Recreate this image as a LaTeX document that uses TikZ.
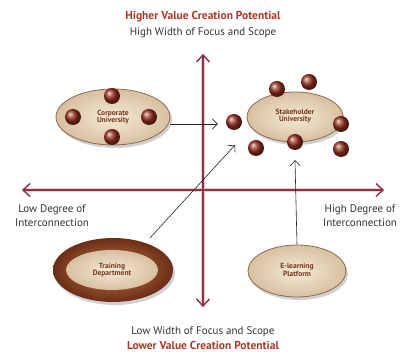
\documentclass[tikz,border=0pt]{standalone}
\usepackage{fontspec}
\setmainfont{PT Sans}
\usetikzlibrary{shapes.geometric,arrows.meta}
\definecolor{titlered}{HTML}{A83A2A}
\definecolor{axiscol}{HTML}{8A3444}
\definecolor{axisglow}{HTML}{F4C8D4}
\definecolor{ballred}{HTML}{9A3020}
\definecolor{rimbrown}{HTML}{8A6A50}
\definecolor{beigein}{HTML}{F4EAD8}
\definecolor{beigeout}{HTML}{D8C0A0}
\definecolor{labelbrown}{HTML}{7A3418}
\definecolor{darkring}{HTML}{6A2E16}
\definecolor{midring}{HTML}{C87848}
\tikzset{
  ovalbox/.style={ellipse, draw=rimbrown, line width=0.8pt, inner color=beigein, outer color=beigeout},
  ovalshadow/.style={ellipse, fill=black, opacity=0.18, draw=none},
  ovaltext/.style={font=\fontsize{7.5}{7.5}\selectfont\bfseries, text=labelbrown, align=center},
  ballnode/.style={circle, minimum size=16pt, inner sep=0pt, ball color=ballred, draw=none},
  axisline/.style={draw=axiscol, line width=1.4pt, -{Straight Barb[length=7pt,width=13pt,line width=1.4pt]}},
  linkarrow/.style={draw=black!85, line width=0.6pt, -{Straight Barb[length=5pt,width=10pt,line width=0.6pt]}},
  titletext/.style={font=\fontsize{11.5}{12}\selectfont\bfseries, text=titlered},
  axistext/.style={font=\fontsize{11}{14}\selectfont, text=black!80, align=left}
}
\begin{document}
\begin{tikzpicture}[x=1pt,y=-1pt]
\useasboundingbox (0,0) rectangle (400,352);
% titles
\node[titletext] (toptitle) at (203,17) {Higher Value Creation Potential};
\node[axistext] (topsub) at (203,33) {High Width of Focus and Scope};
\node[axistext] (botsub) at (203,332) {Low Width of Focus and Scope};
\node[titletext] (bottitle) at (203,345) {Lower Value Creation Potential};
\node[axistext, align=center] (lowlab) at (52,216) {Low Degree of\\Interconnection};
\node[axistext, align=center] (highlab) at (360,216) {High Degree of\\Interconnection};
% axes
\coordinate (c) at (203,190);
\coordinate (atop) at (203,54);
\coordinate (abot) at (203,307);
\coordinate (aleft) at (22,190);
\coordinate (aright) at (384,190);
\draw[axisglow, line width=3.2pt] (atop) -- (abot) (aleft) -- (aright);
\draw[axisline] (c) -- (atop);
\draw[axisline] (c) -- (abot);
\draw[axisline] (c) -- (aleft);
\draw[axisline] (c) -- (aright);
% shadows
\node[ovalshadow, minimum width=114pt, minimum height=56pt] (corpsh) at (115,120) {};
\node[ovalshadow, minimum width=96pt, minimum height=50pt] (stakesh) at (297,120) {};
\node[ovalshadow, minimum width=120pt, minimum height=64pt] (trainsh) at (115,273) {};
\node[ovalshadow, minimum width=98pt, minimum height=52pt] (elearnsh) at (299,274) {};
% corporate university
\node[ovalbox, minimum width=114pt, minimum height=56pt] (corp) at (113,117) {};
\node[ballnode] (cb1) at (112,96) {};
\node[ballnode] (cb2) at (73,117) {};
\node[ballnode] (cb3) at (149,117) {};
\node[ballnode] (cb4) at (112,137) {};
\node[ovaltext] (corptext) at (113,117) {Corporate\\University};
% stakeholder university
\node[ovalbox, minimum width=96pt, minimum height=50pt] (stake) at (295,117) {};
\node[ballnode] (sb1) at (277,89) {};
\node[ballnode] (sb2) at (309,82) {};
\node[ballnode] (sb3) at (341,124) {};
\node[ballnode] (sb4) at (295,142) {};
\node[ballnode] (sb5) at (256,148) {};
\node[ballnode] (sb6) at (341,149) {};
\node[ballnode] (sb7) at (234,122) {};
\node[ovaltext] (staketext) at (295,116) {Stakeholder\\University};
% training department
\node[ellipse, minimum width=120pt, minimum height=64pt, inner color=midring, outer color=darkring, draw=none] (train) at (113,270) {};
\node[ellipse, minimum width=92pt, minimum height=40pt, inner color=beigein, outer color=beigeout, draw=none] (traininner) at (112,270) {};
\node[ovaltext] (traintext) at (112,270) {Training\\Department};
% e-learning platform
\node[ovalbox, minimum width=98pt, minimum height=52pt] (elearn) at (297,271) {};
\node[ovaltext] (elearntext) at (297,270) {E-learning\\Platform};
% links
\coordinate (diagstart) at (150,238);
\coordinate (diagend) at (235,145);
\draw[linkarrow, shorten >=8pt] ([yshift=-7pt]corp.east) -- ([yshift=-2pt]sb7.west);
\draw[linkarrow] (diagstart) -- (diagend);
\draw[linkarrow] (elearn.north) -- ([yshift=-10pt]sb4.south);
\end{tikzpicture}
\end{document}
